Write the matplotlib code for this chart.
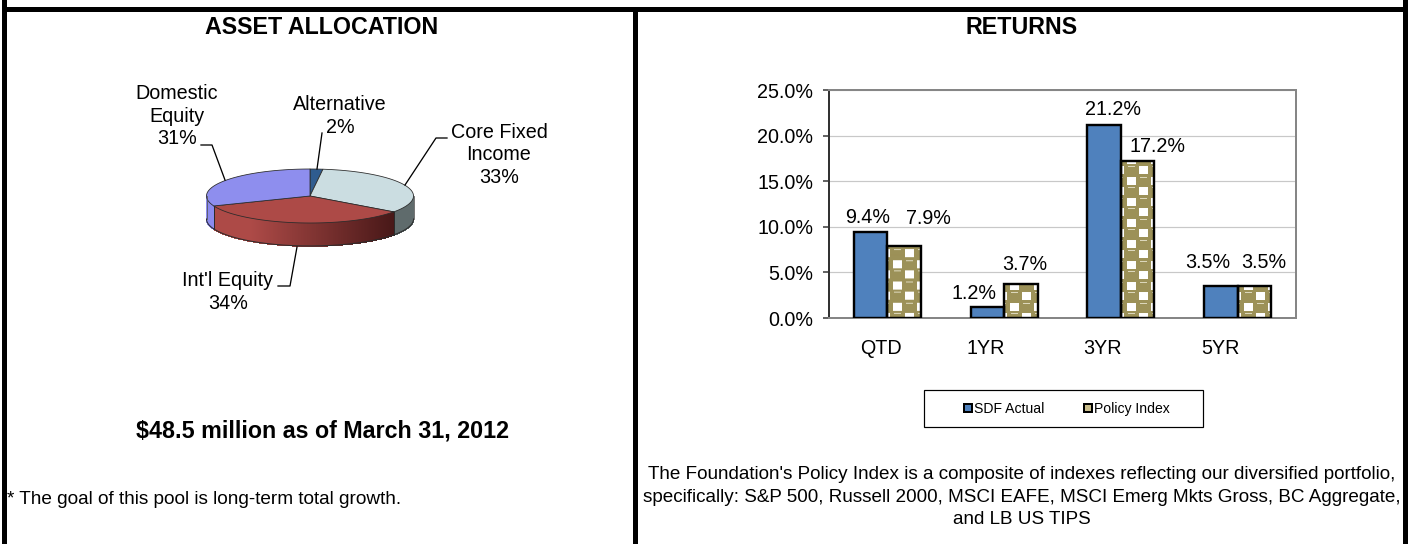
import matplotlib
matplotlib.use("Agg")
import matplotlib.pyplot as plt
import numpy as np
from matplotlib.patches import Polygon, Patch, Rectangle
from matplotlib.transforms import ScaledTranslation

plt.rcParams["font.family"] = ["Liberation Sans", "DejaVu Sans"]

W, H = 1413, 544

# pie data
pie_labels = ["Alternative", "Core Fixed\nIncome", "Int'l Equity", "Domestic\nEquity"]
pie_pct = [2, 33, 34, 31]
pie_top_colors = ["#2F5C8F", "#CBDDE1", "#AD4A47", "#8E8EEE"]
pie_side_colors = ["#2F5C8F", "#5F6B6C", None, "#8B8BEE"]
pie_label_xy = [(340, 116), (499, 155), (228, 292), (177, 116)]
leaders = [
    [(322, 133), (317, 169)],
    [(447, 138), (436, 138), (405, 185)],
    [(278, 286), (290, 286), (297, 247)],
    [(201, 145), (212, 145), (225, 180)],
]

# bar data
periods = ["QTD", "1YR", "3YR", "5YR"]
sdf_actual = [9.4, 1.2, 21.2, 3.5]
policy_index = [7.9, 3.7, 17.2, 3.5]
y_ticks = [0, 5, 10, 15, 20, 25]
period_shift = [-6, -18, -18, -17]
sdf_label_shift = [(-3, 15), (-13, 14), (9, 15), (-13, 24)]
policy_label_shift = [(24, 27), (4, 20), (20, 15), (9, 24)]

fig = plt.figure(figsize=(W / 72, H / 72), dpi=72, facecolor="white")

# whole page layer in pixel coordinates
pg = fig.add_axes([0, 0, 1, 1])
pg.set_xlim(0, W)
pg.set_ylim(H, 0)
pg.axis("off")

# panel rules
for x0, y0, w, h in [(2, 0, 5, H), (633, 7, 5, H), (1403, 0, 5, H), (2, 7, 1406, 5)]:
    pg.add_patch(Rectangle((x0, y0), w, h, facecolor="black", edgecolor="none"))

pg.text(322, 27, "ASSET ALLOCATION", fontsize=23.3, fontweight="bold", ha="center", va="center")
pg.text(1022, 27, "RETURNS", fontsize=23.3, fontweight="bold", ha="center", va="center")
pg.text(322, 431, "$48.5 million as of March 31, 2012", fontsize=23.3, fontweight="bold", ha="center", va="center")
pg.text(7, 500, "* The goal of this pool is long-term total growth.", fontsize=19, ha="left", va="center")
pg.text(1022, 497,
        "The Foundation's Policy Index is a composite of indexes reflecting our diversified portfolio,\n"
        "specifically: S&P 500, Russell 2000, MSCI EAFE, MSCI Emerg Mkts Gross, BC Aggregate,\n"
        "and LB US TIPS",
        fontsize=18.9, ha="center", va="center", linespacing=1.42)

# 3d looking pie
cx, cy, rx, ry, depth = 310, 196, 103.5, 27, 23


def rim(theta):
    return cx + rx * np.sin(theta), cy - ry * np.cos(theta)


edges = np.cumsum([0] + pie_pct) / sum(pie_pct) * 2 * np.pi
dark = "#2b2b2b"
for i in range(len(pie_pct)):
    a0 = max(edges[i], np.pi / 2)
    a1 = min(edges[i + 1], 3 * np.pi / 2)
    if a1 <= a0:
        continue
    th = np.linspace(a0, a1, int((a1 - a0) * 120) + 2)
    for t0, t1 in zip(th[:-1], th[1:]):
        xa, ya = rim(t0)
        xb, yb = rim(t1)
        col = pie_side_colors[i]
        if col is None:
            # red wall gets darker toward the right
            k = np.clip(((xa + xb) / 2 - 250) / (393 - 250), 0, 1)
            c0 = np.array([0xAD, 0x4A, 0x47]) / 255
            c1 = np.array([0x48, 0x18, 0x18]) / 255
            col = c0 + (c1 - c0) * k
        pg.add_patch(Polygon([(xa, ya), (xb, yb), (xb, yb + depth), (xa, ya + depth)],
                             facecolor=col, edgecolor=col, linewidth=0.8, antialiased=False))
    # wall borders
    xa, ya = rim(a0)
    if a0 > np.pi / 2 + 1e-6:
        pg.plot([xa, xa], [ya, ya + depth], color=dark, lw=1)
    px, py = rim(th)
    pg.plot(px, py + depth, color=dark, lw=1)
x1, y1 = rim(np.pi / 2)
x2, y2 = rim(3 * np.pi / 2)
pg.plot([x1, x1], [y1, y1 + depth], color="#555555", lw=0.8)
pg.plot([x2, x2], [y2, y2 + depth], color="#555555", lw=0.8)

for i in range(len(pie_pct)):
    th = np.linspace(edges[i], edges[i + 1], 120)
    px, py = rim(th)
    pts = np.column_stack([np.r_[cx, px], np.r_[cy, py]])
    pg.add_patch(Polygon(pts, facecolor=pie_top_colors[i], edgecolor=dark, linewidth=0.8, joinstyle="round"))

for lab, pct, (lx, ly), seg in zip(pie_labels, pie_pct, pie_label_xy, leaders):
    pg.text(lx, ly, f"{lab}\n{pct}%", fontsize=19.7, ha="center", va="center", linespacing=1.25)
    pg.plot([p[0] for p in seg], [p[1] for p in seg], color="black", lw=1.3)

# bars
ax = fig.add_axes([829 / W, 1 - 318 / H, (1296 - 829) / W, (318 - 90) / H])
ax.set_zorder(2)
ax.patch.set_alpha(0)
pos = np.arange(len(periods))
bw = 33.5 / 116.75


def make_tile():
    # olive balls with white squares between them, like the spreadsheet pattern fill
    tw, th_ = 24, 21
    olive = np.array([0x9C, 0x91, 0x58]) / 255
    light = np.array([0xDD, 0xD8, 0xBC]) / 255
    t = np.ones((th_, tw, 3)) * olive
    yy, xx = np.mgrid[0:th_, 0:tw]
    for (wx, wy), (bx, by) in [((10, 10.5), (22, 10.5)), ((22, 0.5), (10, 0.5))]:
        dx = (xx - wx + tw / 2) % tw - tw / 2
        dy = (yy - wy + th_ / 2) % th_ - th_ / 2
        t[(np.abs(dx) <= 4) & (np.abs(dy) <= 4)] = 1
        dx = (xx - bx + tw / 2) % tw - tw / 2
        dy = (yy - by + th_ / 2) % th_ - th_ / 2
        t[(np.abs(dx) < 3.5) & (dy > 2.5) & (dy < 4.5)] = light
    return t


tile = make_tile()
ax.bar(pos - bw / 2, sdf_actual, bw, color="#4F81BD", edgecolor="black", linewidth=2.4, zorder=3)
px_x = 116.75
px_y = 228 / 25
for p, v in zip(pos, policy_index):
    nx = int(round(bw * px_x))
    ny = max(int(round(v * px_y)), 1)
    big = np.tile(tile, (ny // 21 + 1, nx // 24 + 1, 1))[:ny, :nx]
    ax.imshow(big, extent=(p, p + bw, 0, v), origin="lower", aspect="auto",
              interpolation="bilinear", zorder=2.5)
ax.bar(pos + bw / 2, policy_index, bw, facecolor="none", edgecolor="black", linewidth=2.4, zorder=3)

for xs, vals, shifts in [(pos - bw / 2, sdf_actual, sdf_label_shift), (pos + bw / 2, policy_index, policy_label_shift)]:
    for xv, v, (dx, dy) in zip(xs, vals, shifts):
        ax.annotate(f"{v:.1f}%", (xv, v), xytext=(dx, dy), textcoords="offset points",
                    ha="center", va="center", fontsize=19.7, annotation_clip=False, zorder=5)

ax.set_xlim(-0.5, 3.5)
ax.set_ylim(0, 25)
ax.set_yticks(y_ticks, [f"{v:.1f}%" for v in y_ticks], fontsize=19.7)
ax.set_xticks(pos, periods, fontsize=19.7)
ax.tick_params(axis="y", length=6, width=1.5, color="#333333", pad=10)
ax.tick_params(axis="x", length=0, pad=21)
for lbl, dx in zip(ax.get_xticklabels(), period_shift):
    lbl.set_transform(lbl.get_transform() + ScaledTranslation(dx / 72, 0, fig.dpi_scale_trans))
ax.grid(axis="y", color="#C8C8C8", linewidth=1.2, zorder=0)
ax.set_axisbelow(True)
for side in ax.spines:
    ax.spines[side].set_color("#868686")
    ax.spines[side].set_linewidth(2)
ax.spines["left"].set_color("#333333")

# legend box sits below the chart
pg.add_patch(Rectangle((924, 390), 279, 37, facecolor="white", edgecolor="black", linewidth=1.2))
handles = [Patch(facecolor="#4F81BD", edgecolor="black", linewidth=2, label="SDF Actual"),
           Patch(facecolor="#C9BD8B", edgecolor="black", linewidth=2, label="Policy Index")]
leg = fig.legend(handles=handles, ncols=2, loc="center", bbox_to_anchor=(1067 / W, 1 - 409 / H),
                 frameon=False, fontsize=14, handlelength=0.55, handleheight=0.55,
                 handletextpad=0.2, columnspacing=2.8)

fig.savefig("out.png", dpi=72, facecolor="white")
